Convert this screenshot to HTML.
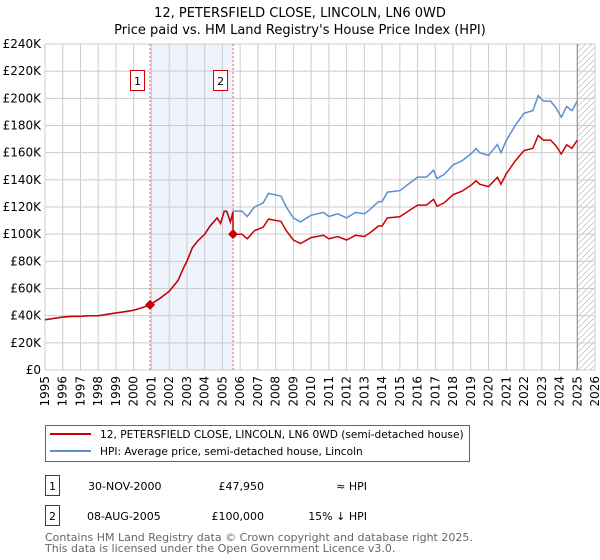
<!DOCTYPE html>
<html><head><meta charset="utf-8"><style>
body{margin:0;background:#fff;}
svg{display:block;font-family:"DejaVu Sans","Liberation Sans",sans-serif;}
</style></head><body>
<svg id="chart" width="600" height="560" xmlns="http://www.w3.org/2000/svg">
<text x="300" y="17" text-anchor="middle" font-size="13" fill="#000">12, PETERSFIELD CLOSE, LINCOLN, LN6 0WD</text>
<text x="300" y="34" text-anchor="middle" font-size="13" fill="#000">Price paid vs. HM Land Registry's House Price Index (HPI)</text>
<g id="grid"></g><g id="series"></g><g id="axes"></g>
<g>
<rect x="45.5" y="425.5" width="424" height="36" fill="#fff" stroke="#666"/>
<line x1="50" y1="434" x2="91" y2="434" stroke="#cc0000" stroke-width="2"/>
<text x="100" y="438" font-size="10.6">12, PETERSFIELD CLOSE, LINCOLN, LN6 0WD (semi-detached house)</text>
<line x1="50" y1="451" x2="91" y2="451" stroke="#5b8fd4" stroke-width="2"/>
<text x="100" y="455" font-size="10.6">HPI: Average price, semi-detached house, Lincoln</text>
</g>
<g font-size="11">
<rect x="45.5" y="475.5" width="14" height="20" fill="#fff" stroke="#cc0000"/>
<text x="52.5" y="490" text-anchor="middle">1</text>
<text x="88" y="490">30-NOV-2000</text><text x="264" y="490" text-anchor="end">£47,950</text><text x="367" y="490" text-anchor="end">≈ HPI</text>
<rect x="45.5" y="505.5" width="14" height="20" fill="#fff" stroke="#cc0000"/>
<text x="52.5" y="520" text-anchor="middle">2</text>
<text x="87" y="520">08-AUG-2005</text><text x="264" y="520" text-anchor="end">£100,000</text><text x="367" y="520" text-anchor="end">15% ↓ HPI</text>
</g>
<text x="45" y="541" font-size="11" fill="#666">Contains HM Land Registry data © Crown copyright and database right 2025.</text>
<text x="45" y="552" font-size="11" fill="#666">This data is licensed under the Open Government Licence v3.0.</text>
</svg>
<script>
const hpiYears=[1995,1995.5,1996,1996.5,1997,1997.5,1998,1998.5,1999,1999.5,2000,2000.5,2000.92,2001.5,2002,2002.5,2002.8,2003,2003.3,2003.6,2004,2004.3,2004.7,2004.9,2005.1,2005.24,2005.45,2005.6,2005.8,2006.1,2006.4,2006.8,2007.3,2007.6,2008.3,2008.6,2009,2009.4,2010,2010.7,2011,2011.5,2012,2012.5,2013,2013.3,2013.8,2014,2014.3,2015,2015.5,2016,2016.5,2016.9,2017.1,2017.5,2018,2018.5,2019,2019.3,2019.5,2020,2020.5,2020.7,2021,2021.5,2022,2022.5,2022.8,2023.1,2023.5,2023.8,2024.1,2024.4,2024.7,2025];
const hpiValues=[37,38,39,39.5,39.5,40,40,41,42,43,44,46,48,53,58,66,75,80,90,95,100,106,112,108,117,117,109,117,117,117,113,120,123,130,128,120,112,109,114,116,113,115,112,116,115,118,124,124,131,132,137,142,142,147,141,144,151,154,159,163,160,158,166,160,169,180,189,191,202,198,198,193,186,194,191,198];
const yTicks=[0,20,40,60,80,100,120,140,160,180,200,220,240];
const xTicks=[1995,1996,1997,1998,1999,2000,2001,2002,2003,2004,2005,2006,2007,2008,2009,2010,2011,2012,2013,2014,2015,2016,2017,2018,2019,2020,2021,2022,2023,2024,2025,2026];
const saleYears=[2000.92,2005.6];
const salePrices=[47.95,100];
const saleLabels=["1","2"];
const NS="http://www.w3.org/2000/svg";
const L=45,R=595,T=44,B=370;
const xs=y=>L+(y-1995)/(2026-1995)*(R-L);
const ys=v=>B-v/240*(B-T);
function mk(tag,attrs,parent){const e=document.createElementNS(NS,tag);for(const k in attrs)e.setAttribute(k,attrs[k]);parent.appendChild(e);return e;}
const grid=document.getElementById('grid'),ser=document.getElementById('series'),ax=document.getElementById('axes');
let sh=mk('rect',{x:xs(saleYears[0]),y:T,width:xs(saleYears[1])-xs(saleYears[0]),height:B-T,fill:'#eef3fc'},grid);


const defs=mk('defs',{},grid);
const pat=mk('pattern',{id:'hatch',width:6,height:6,patternUnits:'userSpaceOnUse'},defs);
mk('path',{d:'M0,6 L6,0',stroke:'#bbb','stroke-width':0.7},pat);
let hz=mk('rect',{x:xs(2025),y:T,width:R-xs(2025),height:B-T,fill:'url(#hatch)'},grid);


xTicks.forEach(t=>{
 mk('line',{x1:xs(t),y1:T,x2:xs(t),y2:B,stroke:'#ccc','stroke-width':1},grid);
 const tx=mk('text',{x:0,y:0,'font-size':12,'text-anchor':'end',transform:`translate(${xs(t)+4},${B+6}) rotate(-90)`},ax);
 tx.textContent=t;
 
 
});
yTicks.forEach(t=>{
 mk('line',{x1:L,y1:ys(t),x2:R,y2:ys(t),stroke:'#ccc','stroke-width':1},grid);
 const tx=mk('text',{x:L-4,y:ys(t)+4,'font-size':12,'text-anchor':'end'},ax);
 tx.textContent=t===0?'£0':'£'+t+'K';
 
 
});
mk('line',{x1:xs(2025),y1:T,x2:xs(2025),y2:B,stroke:'#888','stroke-width':1},grid);
saleYears.forEach((y,i)=>{
 mk('line',{x1:xs(y),y1:T,x2:xs(y),y2:B,stroke:'#f06060','stroke-dasharray':'2,2','stroke-width':1},grid);
 const bx=mk('rect',{x:xs(y)-19.5,y:70.5,width:14,height:20,fill:'#fff',stroke:'#cc0000'},ax);
 
 
 const t=mk('text',{x:xs(y)-12.5,y:85,'font-size':11,'text-anchor':'middle'},ax);t.textContent=saleLabels[i];
});
let d=hpiYears.map((y,i)=>(i?'L':'M')+xs(y).toFixed(1)+','+ys(hpiValues[i]).toFixed(1)).join(' ');
const hp=mk('path',{d:d,fill:'none',stroke:'#5b8fd4','stroke-width':1.5},ser);


function hpiAt(y){for(let i=1;i<hpiYears.length;i++){if(y<=hpiYears[i]){const f=(y-hpiYears[i-1])/(hpiYears[i]-hpiYears[i-1]);return hpiValues[i-1]+f*(hpiValues[i]-hpiValues[i-1]);}}return hpiValues[hpiValues.length-1];}
const r1=salePrices[0]/hpiAt(saleYears[0]),r2=salePrices[1]/hpiAt(saleYears[1]);
const pts=[];
hpiYears.forEach((y,i)=>{if(y<saleYears[1])pts.push([y,hpiValues[i]*r1]);});
pts.push([saleYears[1]-0.01,hpiAt(saleYears[1]-0.01)*r1]);
pts.push([saleYears[1],salePrices[1]]);
hpiYears.forEach((y,i)=>{if(y>saleYears[1])pts.push([y,hpiValues[i]*r2]);});
d=pts.map((p,i)=>(i?'L':'M')+xs(p[0]).toFixed(1)+','+ys(p[1]).toFixed(1)).join(' ');
const pp=mk('path',{d:d,fill:'none',stroke:'#cc0000','stroke-width':1.5},ser);


saleYears.forEach((y,i)=>{
 const cx=xs(y),cy=ys(salePrices[i]);
 const dm=mk('path',{d:`M${cx},${cy-5} L${cx+5},${cy} L${cx},${cy+5} L${cx-5},${cy} Z`,fill:'#cc0000'},ser);
 
 
});
</script>
</body></html>
